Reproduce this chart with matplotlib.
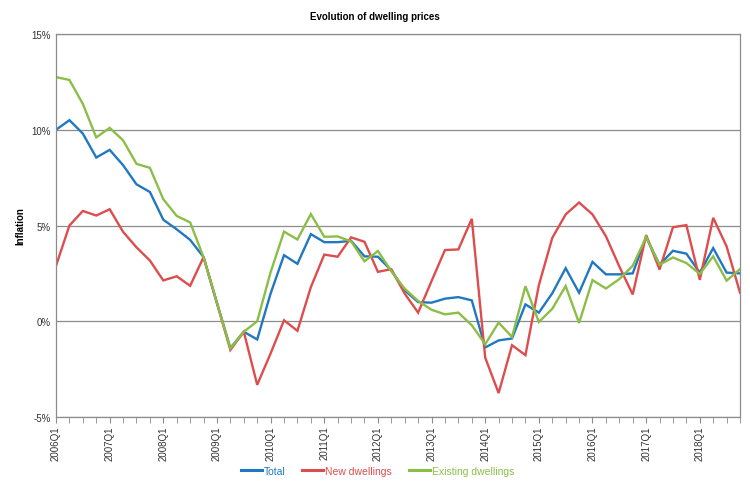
import matplotlib
matplotlib.use("Agg")
import matplotlib.pyplot as plt
import numpy as np
from matplotlib.ticker import FuncFormatter, MultipleLocator

# quarterly year-on-year change in dwelling prices, 2006Q1 .. 2018Q4
quarters = [f"{y}Q{q}" for y in range(2006, 2019) for q in range(1, 5)]

total = [10.0, 10.5, 9.8, 8.55, 8.95, 8.15, 7.15, 6.75, 5.3, 4.8,
         4.25, 3.35, 0.95, -1.4, -0.55, -0.95, 1.45, 3.45, 3.0, 4.55,
         4.13, 4.13, 4.2, 3.39, 3.37, 2.65, 1.61, 1.0, 0.97, 1.18,
         1.26, 1.09, -1.37, -1.0, -0.9, 0.88, 0.45, 1.46, 2.77, 1.49,
         3.1, 2.45, 2.45, 2.5, 4.4, 2.95, 3.68, 3.53, 2.54, 3.82,
         2.54, 2.5]
new_dwellings = [2.9, 5.0, 5.76, 5.52, 5.85, 4.67, 3.86, 3.17, 2.13, 2.35,
                 1.85, 3.35, 0.95, -1.5, -0.55, -3.32, -1.68, 0.05, -0.5, 1.78,
                 3.48, 3.37, 4.38, 4.15, 2.58, 2.72, 1.44, 0.45, 2.1, 3.72,
                 3.75, 5.35, -1.9, -3.75, -1.25, -1.77, 1.88, 4.35, 5.58, 6.2,
                 5.58, 4.44, 2.86, 1.4, 4.5, 2.7, 4.91, 5.02, 2.16, 5.4,
                 3.91, 1.49]
existing_dwellings = [12.75, 12.6, 11.35, 9.6, 10.1, 9.45, 8.22, 8.01, 6.37, 5.5,
                      5.16, 3.35, 0.95, -1.42, -0.55, 0.0, 2.56, 4.68, 4.27, 5.6,
                      4.41, 4.43, 4.17, 3.13, 3.67, 2.61, 1.7, 1.06, 0.6, 0.36,
                      0.45, -0.21, -1.2, -0.07, -0.82, 1.83, -0.04, 0.65, 1.84, -0.09,
                      2.15, 1.71, 2.2, 2.9, 4.4, 2.95, 3.33, 3.04, 2.47, 3.39,
                      2.12, 2.72]

series = [
    ("Total", total, "#2079C0"),
    ("New dwellings", new_dwellings, "#DE4D4D"),
    ("Existing dwellings", existing_dwellings, "#8BBE47"),
]

plt.rcParams["font.family"] = ["Liberation Sans", "DejaVu Sans"]

fig = plt.figure(figsize=(7.5, 4.89), dpi=100)
ax = fig.add_axes([0.0747, 0.1452, 0.912, 0.7832])

x = np.arange(len(quarters))
for name, vals, color in series:
    ax.plot(x, vals, color=color, lw=1.7, label=name, solid_joinstyle="miter")

ax.set_xlim(0, len(quarters) - 1)
ax.set_ylim(-5, 15)
ax.yaxis.set_major_locator(MultipleLocator(5))
ax.yaxis.set_major_formatter(FuncFormatter(lambda v, _: f"{v:.0f}%"))
ax.grid(axis="y", color="#8c8c8c", lw=0.9)
ax.set_axisbelow(True)

ax.set_xticks(x[::4])
ax.set_xticklabels(quarters[::4], rotation=90, fontsize=7, color="#333333")
ax.set_xticks(x, minor=True)
ax.tick_params(axis="x", which="both", length=4, color="#8c8c8c", pad=2)
ax.tick_params(axis="y", length=0, labelsize=7, pad=4, labelcolor="#333333")

for side in ("left", "right", "bottom", "top"):
    ax.spines[side].set_color("#8c8c8c")
    ax.spines[side].set_linewidth(0.9)

ax.set_ylabel("Inflation", fontsize=7, fontweight="bold", labelpad=4)
fig.suptitle("Evolution of dwelling prices", fontsize=7, fontweight="bold", y=0.975)

leg = ax.legend(loc="center", bbox_to_anchor=(0.47, -0.141), ncol=3,
                frameon=False, fontsize=7.5, handlelength=2.0, handletextpad=0.2,
                columnspacing=1.6)
for text, (_, _, color) in zip(leg.get_texts(), series):
    text.set_color(color)
for line in leg.get_lines():
    line.set_linewidth(2.2)

fig.savefig("out.png", dpi=100)
